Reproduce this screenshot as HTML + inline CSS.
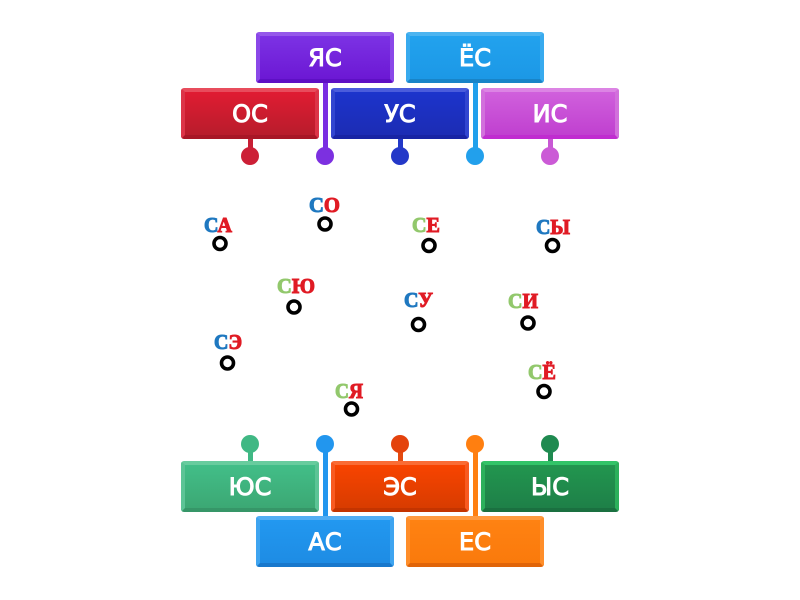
<!DOCTYPE html>
<html><head><meta charset="utf-8">
<style>
html,body{margin:0;padding:0;background:#fff}
#p{position:relative;width:800px;height:600px;overflow:hidden;background:#fff}
.b{position:absolute;width:138px;height:51px;box-sizing:border-box;border-style:solid;border-width:4px;border-radius:3px;color:#fff;text-align:center;font:normal 24px/45px "DejaVu Sans",sans-serif;-webkit-text-stroke:1px #fff}
.l{position:absolute;width:5px}
.d{position:absolute;width:18px;height:18px;border-radius:50%}
svg{position:absolute;left:0;top:0}
</style></head><body><div id="p">

<div class="l" style="left:247.5px;top:135px;height:20px;background:#c81e34"></div>
<div class="l" style="left:322.5px;top:80px;height:75px;background:#7a2ee2"></div>
<div class="l" style="left:397.5px;top:135px;height:20px;background:#2238c8"></div>
<div class="l" style="left:472.5px;top:80px;height:75px;background:#20a0ec"></div>
<div class="l" style="left:547.5px;top:135px;height:20px;background:#c858d4"></div>
<div class="d" style="left:241px;top:147px;background:#cc1f36"></div>
<div class="d" style="left:316px;top:147px;background:#7c30e0"></div>
<div class="d" style="left:391px;top:147px;background:#2438c8"></div>
<div class="d" style="left:466px;top:147px;background:#22a0ec"></div>
<div class="d" style="left:541px;top:147px;background:#cb5ad6"></div>

<div class="l" style="left:247.5px;top:445px;height:20px;background:#40b884"></div>
<div class="l" style="left:322.5px;top:445px;height:75px;background:#2296ee"></div>
<div class="l" style="left:397.5px;top:445px;height:20px;background:#e44a10"></div>
<div class="l" style="left:472.5px;top:445px;height:75px;background:#ff7f10"></div>
<div class="l" style="left:547.5px;top:445px;height:20px;background:#1f8a50"></div>
<div class="d" style="left:241px;top:435px;background:#40b884"></div>
<div class="d" style="left:316px;top:435px;background:#2296ee"></div>
<div class="d" style="left:391px;top:435px;background:#e4420c"></div>
<div class="d" style="left:466px;top:435px;background:#ff7f10"></div>
<div class="d" style="left:541px;top:435px;background:#1f8a50"></div>

<div class="b" style="left:256px;top:32px;background:linear-gradient(#7c32e4,#6c18d4);border-color:#9558ea #8a48e8 #5e10c4 #8a48e8"><span>ЯС</span></div>
<div class="b" style="left:406px;top:32px;background:linear-gradient(#22a2ee,#1c98e6);border-color:#4cb4f0 #38aaee #1884c8 #38aaee"><span>ЁС</span></div>
<div class="b" style="left:181px;top:88px;background:linear-gradient(#e01c32,#b81c2c);border-color:#e84c5c #dc3448 #a81626 #dc3448"><span>ОС</span></div>
<div class="b" style="left:331px;top:88px;background:linear-gradient(#1c34cc,#1c2cb4);border-color:#4a5cdc #3246d0 #1824a4 #3246d0"><span>УС</span></div>
<div class="b" style="left:481px;top:88px;background:linear-gradient(#d060dc,#c040d0);border-color:#dc84e4 #d270dc #c02cd0 #d270dc"><span>ИС</span></div>

<div class="b" style="left:181px;top:461px;background:linear-gradient(#42be88,#3ca874);border-color:#68cc9e #5cc496 #369668 #5cc496"><span>ЮС</span></div>
<div class="b" style="left:331px;top:461px;background:linear-gradient(#f84400,#d83c00);border-color:#fa6c34 #f85a20 #c43400 #f85a20"><span>ЭС</span></div>
<div class="b" style="left:481px;top:461px;background:linear-gradient(#22964f,#1e8048);border-color:#32c468 #2cb05c #1a7040 #2cb05c"><span>ЫС</span></div>
<div class="b" style="left:256px;top:516px;background:linear-gradient(#2298f0,#1e8ce4);border-color:#52aef4 #3ea4f0 #1878cc #3ea4f0"><span>АС</span></div>
<div class="b" style="left:406px;top:516px;background:linear-gradient(#ff8212,#fa7a0c);border-color:#ff9a40 #ff8e2a #e06408 #ff8e2a"><span>ЕС</span></div>

<svg width="800" height="600" viewBox="0 0 800 600" font-family="'Liberation Serif',serif" font-weight="bold" font-size="21">
<g fill="none" stroke="#000" stroke-width="3.6">
<circle cx="220" cy="243.5" r="6"/><circle cx="325" cy="224" r="6"/><circle cx="429" cy="245.5" r="6"/><circle cx="552.5" cy="245.5" r="6"/>
<circle cx="294" cy="307" r="6"/><circle cx="418.5" cy="324.5" r="6"/><circle cx="528" cy="323" r="6"/>
<circle cx="227.5" cy="363" r="6"/><circle cx="351.5" cy="409" r="6"/><circle cx="544" cy="391.5" r="6"/>
</g>
<g style="filter:blur(.3px);-webkit-text-stroke:.4px currentColor">
<text x="204" y="232" textLength="28" lengthAdjust="spacingAndGlyphs"><tspan fill="#1f78c0" stroke="#1f78c0">С</tspan><tspan fill="#e01b24" stroke="#e01b24">А</tspan></text>
<text x="309" y="212" textLength="31" lengthAdjust="spacingAndGlyphs"><tspan fill="#1f78c0" stroke="#1f78c0">С</tspan><tspan fill="#e01b24" stroke="#e01b24">О</tspan></text>
<text x="412" y="232" textLength="28" lengthAdjust="spacingAndGlyphs"><tspan fill="#92c86c" stroke="#92c86c">С</tspan><tspan fill="#e01b24" stroke="#e01b24">Е</tspan></text>
<text x="536" y="234" textLength="34" lengthAdjust="spacingAndGlyphs"><tspan fill="#1f78c0" stroke="#1f78c0">С</tspan><tspan fill="#e01b24" stroke="#e01b24">Ы</tspan></text>
<text x="277" y="293" textLength="38" lengthAdjust="spacingAndGlyphs"><tspan fill="#92c86c" stroke="#92c86c">С</tspan><tspan fill="#e01b24" stroke="#e01b24">Ю</tspan></text>
<text x="404" y="307" textLength="29" lengthAdjust="spacingAndGlyphs"><tspan fill="#1f78c0" stroke="#1f78c0">С</tspan><tspan fill="#e01b24" stroke="#e01b24">У</tspan></text>
<text x="508" y="308" textLength="30" lengthAdjust="spacingAndGlyphs"><tspan fill="#92c86c" stroke="#92c86c">С</tspan><tspan fill="#e01b24" stroke="#e01b24">И</tspan></text>
<text x="214" y="349" textLength="28" lengthAdjust="spacingAndGlyphs"><tspan fill="#1f78c0" stroke="#1f78c0">С</tspan><tspan fill="#e01b24" stroke="#e01b24">Э</tspan></text>
<text x="335" y="398" textLength="28" lengthAdjust="spacingAndGlyphs"><tspan fill="#92c86c" stroke="#92c86c">С</tspan><tspan fill="#e01b24" stroke="#e01b24">Я</tspan></text>
<text x="528" y="379" textLength="28" lengthAdjust="spacingAndGlyphs"><tspan fill="#92c86c" stroke="#92c86c">С</tspan><tspan fill="#e01b24" stroke="#e01b24">Ё</tspan></text>
</g>
</svg>
</div></body></html>
